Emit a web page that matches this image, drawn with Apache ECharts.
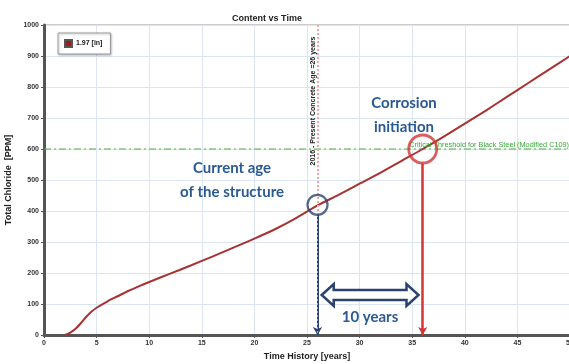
<!DOCTYPE html>
<html><head><meta charset="utf-8">
<script src="https://cdn.jsdelivr.net/npm/echarts@6/dist/echarts.min.js"></script>
<style>html,body{margin:0;padding:0;background:#fff}#c{width:569px;height:364px}</style>
</head><body><div id="c"></div>
<script>
// Data
var years = [2, 2.5, 3, 3.5, 4, 4.5, 5, 6, 7, 8, 9, 10, 12, 14, 16, 18, 20, 22, 24, 26, 28, 30, 32, 34, 36, 38, 40, 42, 44, 46, 48, 50];
var chloride = [0, 8, 20, 38, 58, 75, 88, 108, 125, 142, 157, 171, 198, 225, 253, 282, 311, 342, 378, 418, 452, 488, 524, 562, 600, 640, 682, 724, 768, 812, 856, 900];
var seriesName = '1.97 [in]';
var threshold = 600;
var thresholdSpan = [0, 50];
var thresholdLabel = 'Critical Threshold for Black Steel (Modified C109)';
var currentAge = 26;
var currentValue = 420;
var initiationAge = 36;
var initiationValue = 600;
var blueArrowFrom = 387;
var redArrowFrom = 553;
var spanArrow = [26.4, 35.6, 129];
var presentLabel = '2016 - Present Concrete Age =26 years';

var chart = echarts.init(document.getElementById('c'));
var navy = '#2b4270';
var txtBlue = '#2a5a94';
var lineData = years.map(function (x, i) { return [x, chloride[i]]; });
var plain = function (v) { return String(v); };

chart.setOption({
  animation: false,
  title: { text: 'Content vs Time', left: 262, top: 9, textAlign: 'center',
    textStyle: { fontFamily: 'Liberation Sans', fontSize: 9, fontWeight: 'bold', color: '#222' } },
  legend: {
    left: 58, top: 33, orient: 'vertical', padding: [6, 8, 6, 6],
    borderColor: '#999', borderWidth: 1, backgroundColor: '#fff',
    shadowColor: 'rgba(0,0,0,0.25)', shadowBlur: 2, shadowOffsetX: 1, shadowOffsetY: 1,
    itemWidth: 7, itemHeight: 7, itemGap: 4,
    data: [{ name: seriesName, icon: 'rect' }],
    textStyle: { fontFamily: 'Liberation Sans', fontSize: 7, fontWeight: 'bold', color: '#222', padding: [0, 0, 0, -1] }
  },
  grid: { left: 44, right: -1, top: 25, bottom: 29, show: true, borderColor: '#999', borderWidth: 1,
    containLabel: false, outerBoundsMode: 'none' },
  xAxis: {
    type: 'value', min: 0, max: 50, interval: 5,
    name: 'Time History [years]', nameLocation: 'middle', nameGap: 15,
    nameTextStyle: { fontFamily: 'Liberation Sans', fontSize: 9, fontWeight: 'bold', color: '#222' },
    axisLine: { lineStyle: { color: '#555', width: 3 } },
    axisTick: { show: true, length: 3, lineStyle: { color: '#555' } },
    axisLabel: { formatter: plain, fontFamily: 'Liberation Sans', fontSize: 7, fontWeight: 'bold', color: '#333', margin: 5, hideOverlap: false },
    splitLine: { lineStyle: { color: '#dbe5f4', width: 1 } }
  },
  yAxis: {
    type: 'value', min: 0, max: 1000, interval: 100,
    name: 'Total Chloride  [PPM]', nameLocation: 'middle', nameGap: 28,
    nameTextStyle: { fontFamily: 'Liberation Sans', fontSize: 9, fontWeight: 'bold', color: '#222' },
    axisLine: { show: true, lineStyle: { color: '#555', width: 3 } },
    axisTick: { show: true, length: 3, lineStyle: { color: '#555' } },
    axisLabel: { formatter: plain, fontFamily: 'Liberation Sans', fontSize: 7, fontWeight: 'bold', color: '#333', margin: 5 },
    splitLine: { lineStyle: { color: '#dbe5f4', width: 1 } }
  },
  series: [
    {
      name: seriesName, type: 'line', data: lineData, showSymbol: false, smooth: 0.25,
      itemStyle: { color: '#9a1c1c', borderColor: '#555', borderWidth: 0.5 },
      lineStyle: { color: '#a83232', width: 2 }, z: 3
    },
    {
      type: 'line', silent: true, z: 2, showSymbol: false,
      data: thresholdSpan.map(function (x) { return [x, threshold]; }),
      itemStyle: { color: '#4cb24c' },
      lineStyle: { color: '#4cb24c', width: 1.2, type: [7, 3, 2, 3] },
      markLine: {
        silent: true, symbol: 'none',
        lineStyle: { color: 'rgba(255,255,255,0)', width: 1, type: 'solid' },
        label: { show: true, position: 'insideEndTop', formatter: thresholdLabel, color: '#3aa83a',
          fontFamily: 'Liberation Sans', fontSize: 7.3, distance: 1 },
        data: [ { yAxis: threshold } ]
      }
    },
    {
      type: 'line', data: [], silent: true, z: 2,
      markLine: {
        silent: true, symbol: 'none',
        lineStyle: { color: '#f4a5a5', width: 2, type: [2, 2], opacity: 1 },
        label: { show: false },
        data: [ { xAxis: currentAge } ]
      }
    },
    {
      type: 'line', data: [], silent: true, z: 5,
      markLine: {
        silent: true, symbol: ['none', 'arrow'], symbolSize: [7, 8],
        data: [
          [{ coord: [currentAge, blueArrowFrom], lineStyle: { color: navy, width: 2, type: 'solid' }, label: { show: false } },
           { coord: [currentAge, 0] }],
          [{ coord: [currentAge, blueArrowFrom], lineStyle: { color: '#f08a8a', width: 1, type: [2, 2] }, symbol: 'none', label: { show: false } },
           { coord: [currentAge, 0], symbol: 'none' }],
          [{ coord: [initiationAge, redArrowFrom], lineStyle: { color: '#d33535', width: 2.5, type: 'solid' }, label: { show: false } },
           { coord: [initiationAge, 0] }]
        ]
      }
    },
    {
      type: 'scatter', silent: true, z: 6,
      data: [
        { value: [currentAge, currentValue], symbolSize: 20, itemStyle: { color: 'rgba(0,0,0,0)', borderColor: navy, borderWidth: 2.2 } },
        { value: [initiationAge, initiationValue], symbolSize: 28, itemStyle: { color: 'rgba(0,0,0,0)', borderColor: '#d33535', borderWidth: 2.8 } }
      ]
    },
    {
      type: 'custom', silent: true, z: 6,
      data: [spanArrow],
      renderItem: function (params, api) {
        var p1 = api.coord([api.value(0), api.value(2)]);
        var p2 = api.coord([api.value(1), api.value(2)]);
        var y = p1[1], hl = 12, hh = 11, sh = 5;
        var pts = [
          [p1[0], y], [p1[0] + hl, y - hh], [p1[0] + hl, y - sh], [p2[0] - hl, y - sh], [p2[0] - hl, y - hh],
          [p2[0], y], [p2[0] - hl, y + hh], [p2[0] - hl, y + sh], [p1[0] + hl, y + sh], [p1[0] + hl, y + hh]
        ];
        return { type: 'polygon', shape: { points: pts }, style: { fill: '#fff', stroke: navy, lineWidth: 2.5, lineJoin: 'miter' } };
      }
    }
  ],
  graphic: [
    { type: 'text', x: 313, y: 101, rotation: Math.PI / 2, z: 10,
      style: { text: presentLabel, fontFamily: 'Liberation Sans', fontSize: 7, fontWeight: 'bold', fill: '#222', align: 'center', verticalAlign: 'middle' } },
    { type: 'text', x: 232, y: 180, z: 10,
      style: { text: 'Current age\nof the structure', fontFamily: 'Lato', fontSize: 15, fontWeight: 'bold', lineHeight: 24, fill: txtBlue, align: 'center', verticalAlign: 'middle' } },
    { type: 'text', x: 404, y: 115, z: 10,
      style: { text: 'Corrosion\ninitiation', fontFamily: 'Lato', fontSize: 15, fontWeight: 'bold', lineHeight: 24, fill: txtBlue, align: 'center', verticalAlign: 'middle' } },
    { type: 'text', x: 370, y: 317, z: 10,
      style: { text: '10 years', fontFamily: 'Lato', fontSize: 15, fontWeight: 'bold', fill: txtBlue, align: 'center', verticalAlign: 'middle' } }
  ]
});
</script>
</body></html>
